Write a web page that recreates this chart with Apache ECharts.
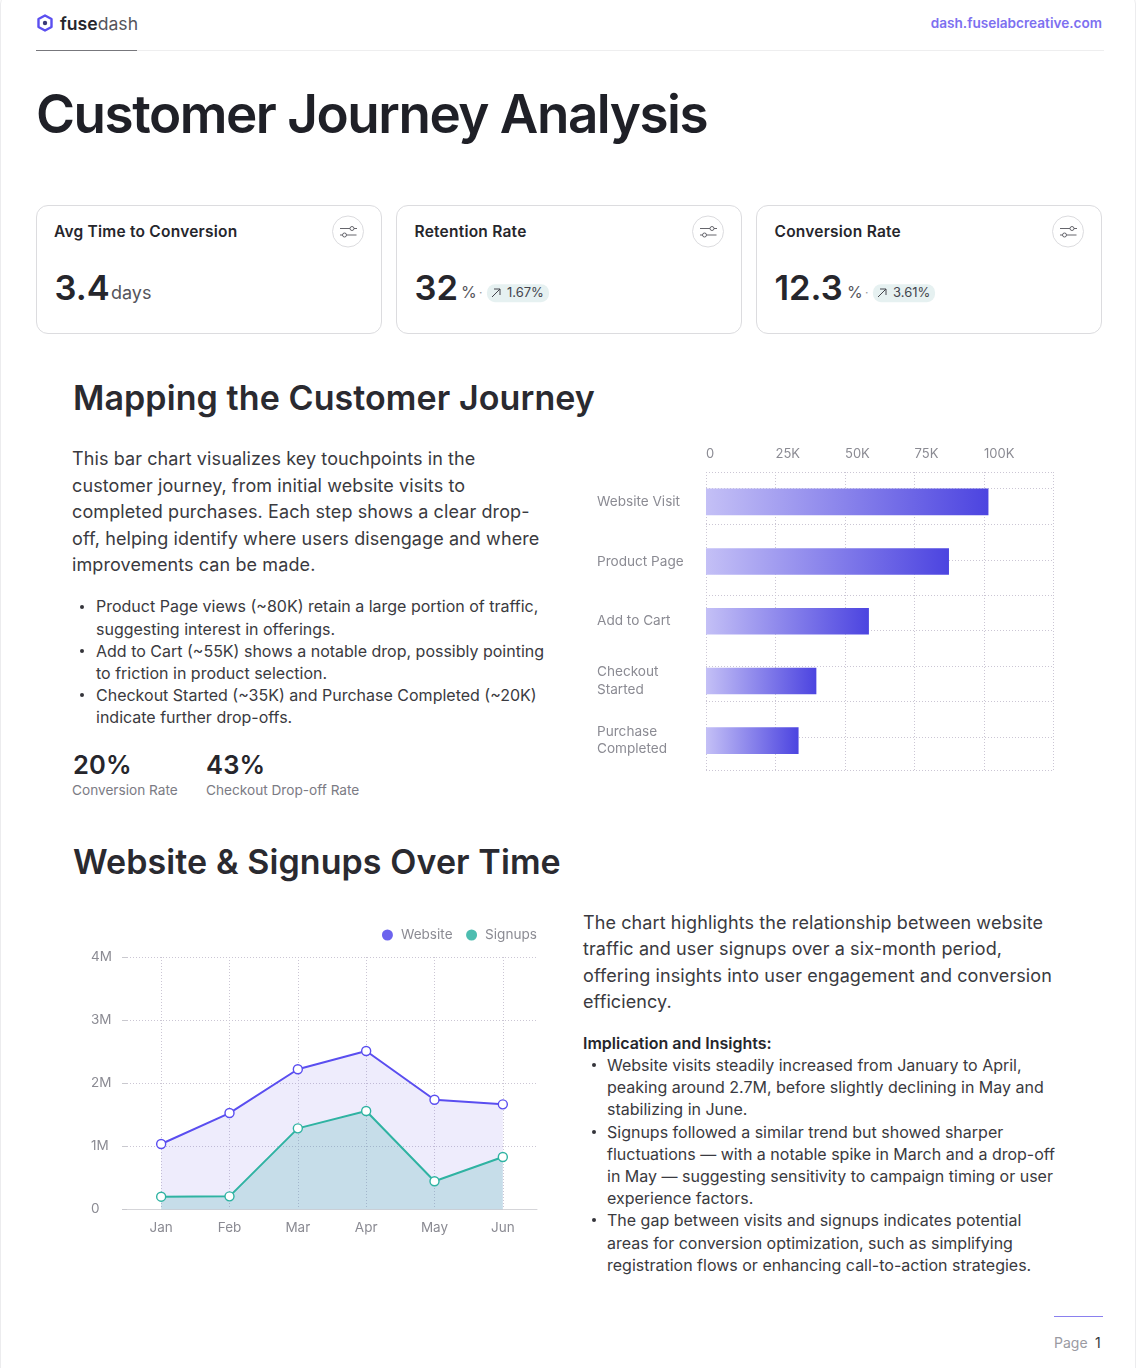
<!DOCTYPE html>
<html>
<head>
<meta charset="utf-8" />
<title>Customer Journey Analysis</title>
<style>
html, body { margin: 0; padding: 0; background: #fff; }
body { width: 1136px; height: 1368px; position: relative; overflow: hidden; font-family: Inter, sans-serif; color: #26262c; }
.t { position: absolute; white-space: nowrap; transform: translateY(-50%); line-height: 1.2; }
.frame { position: absolute; left: 0; top: -10px; width: 1134px; height: 1390px; border: 1px solid #ececee; border-radius: 14px; }
.card { position: absolute; top: 205px; width: 344px; height: 127px; border: 1px solid #dcdcdf; border-radius: 12px; }
.cardTitle { font-size: 15.5px; font-weight: 600; letter-spacing: 0.23px; }
.val { font-size: 34.5px; font-weight: 600; }
.unit { font-size: 18px; color: #55555c; }
.pct { font-size: 16px; color: #55555c; }
.pill { background: #e6f1f1; border-radius: 8px; padding: 1px 5px 1px 20px; font-size: 13px; color: #44444c; }
.ico { position: absolute; }
.h2 { font-size: 34px; font-weight: 600; letter-spacing: 0.09px; color: #2a2a30; }
.p { font-size: 18px; letter-spacing: 0.1px; color: #3a3a40; }
.b { font-size: 16px; color: #3a3a40; }
.dot { position: absolute; width: 4px; height: 4px; border-radius: 50%; background: #34343a; }
.stat { font-size: 25.5px; font-weight: 600; letter-spacing: 0.2px; }
.cap { font-size: 13.65px; color: #7b7b84; }
#funnel { position: absolute; left: 580px; top: 430px; width: 500px; height: 360px; }
#trend { position: absolute; left: 60px; top: 915px; width: 500px; height: 330px; }
</style>
</head>
<body>
<div class="frame"></div>

<svg class="ico" style="left:36px;top:14px" width="18" height="18" viewBox="0 0 18 18">
  <path d="M9 1.5 L15.5 5 V13 L9 16.5 L2.5 13 V5 Z" fill="none" stroke="#5b4ff0" stroke-width="2.4" stroke-linejoin="round"/>
  <circle cx="9" cy="9" r="2.2" fill="#3a3a78"/>
</svg>
<div class="t" style="left:60px;top:24px;font-size:17.6px;font-weight:600">fuse<span style="font-weight:400;color:#55555c">dash</span></div>
<div class="t" style="right:34px;top:23px;font-size:13.6px;font-weight:600;color:#7d70f0">dash.fuselabcreative.com</div>
<div style="position:absolute;left:36px;top:50px;width:1068px;height:1px;background:#eeeeef"></div>
<div style="position:absolute;left:36px;top:50px;width:101px;height:1px;background:#77777c"></div>

<div class="t" style="left:36px;top:115px;font-size:53px;font-weight:600;letter-spacing:-1.47px;color:#1f2027">Customer Journey Analysis</div>

<div class="card" style="left:36px"></div>
<div class="card" style="left:396px"></div>
<div class="card" style="left:756px"></div>

<div class="t cardTitle" style="left:54px;top:232px">Avg Time to Conversion</div>
<div class="t cardTitle" style="left:414.5px;top:232px">Retention Rate</div>
<div class="t cardTitle" style="left:774.5px;top:232px">Conversion Rate</div>

<div class="t val" style="left:54.5px;top:288px">3.4</div>
<div class="t unit" style="left:111px;top:293px">days</div>

<div class="t val" style="left:414.5px;top:288px">32</div>
<div class="t pct" style="left:461px;top:293px">%</div>
<div class="t" style="left:479px;top:293px;font-size:12px;color:#999">·</div>
<div class="t pill" style="left:487px;top:293px">1.67%</div>

<div class="t val" style="left:774.5px;top:288px">12.3</div>
<div class="t pct" style="left:847px;top:293px">%</div>
<div class="t" style="left:865px;top:293px;font-size:12px;color:#999">·</div>
<div class="t pill" style="left:873px;top:293px">3.61%</div>

<div id="icons"></div>

<div class="t h2" style="left:73px;top:398px">Mapping the Customer Journey</div>

<div class="t p" style="left:72px;top:459px">This bar chart visualizes key touchpoints in the</div>
<div class="t p" style="left:72px;top:486px">customer journey, from initial website visits to</div>
<div class="t p" style="left:72px;top:512px">completed purchases. Each step shows a clear drop-</div>
<div class="t p" style="left:72px;top:539px">off, helping identify where users disengage and where</div>
<div class="t p" style="left:72px;top:565px">improvements can be made.</div>

<div class="dot" style="left:80px;top:605px"></div>
<div class="t b" style="left:96px;top:607px">Product Page views (~80K) retain a large portion of traffic,</div>
<div class="t b" style="left:96px;top:630px">suggesting interest in offerings.</div>
<div class="dot" style="left:80px;top:649px"></div>
<div class="t b" style="left:96px;top:652px">Add to Cart (~55K) shows a notable drop, possibly pointing</div>
<div class="t b" style="left:96px;top:674px">to friction in product selection.</div>
<div class="dot" style="left:80px;top:693px"></div>
<div class="t b" style="left:96px;top:696px">Checkout Started (~35K) and Purchase Completed (~20K)</div>
<div class="t b" style="left:96px;top:718px">indicate further drop-offs.</div>

<div class="t stat" style="left:73px;top:765px">20%</div>
<div class="t cap" style="left:72px;top:790px">Conversion Rate</div>
<div class="t stat" style="left:206px;top:765px">43%</div>
<div class="t cap" style="left:206px;top:790px">Checkout Drop-off Rate</div>

<div id="funnel"></div>

<div class="t h2" style="left:73px;top:862px">Website &amp; Signups Over Time</div>

<div id="trend"></div>

<div class="t p" style="left:583px;top:923px">The chart highlights the relationship between website</div>
<div class="t p" style="left:583px;top:949px">traffic and user signups over a six-month period,</div>
<div class="t p" style="left:583px;top:976px">offering insights into user engagement and conversion</div>
<div class="t p" style="left:583px;top:1002px">efficiency.</div>

<div class="t b" style="left:583px;top:1044px;font-weight:600;color:#26262c">Implication and Insights:</div>
<div class="dot" style="left:592px;top:1063px"></div>
<div class="t b" style="left:607px;top:1066px">Website visits steadily increased from January to April,</div>
<div class="t b" style="left:607px;top:1088px">peaking around 2.7M, before slightly declining in May and</div>
<div class="t b" style="left:607px;top:1110px">stabilizing in June.</div>
<div class="dot" style="left:592px;top:1130px"></div>
<div class="t b" style="left:607px;top:1133px">Signups followed a similar trend but showed sharper</div>
<div class="t b" style="left:607px;top:1155px">fluctuations — with a notable spike in March and a drop-off</div>
<div class="t b" style="left:607px;top:1177px">in May — suggesting sensitivity to campaign timing or user</div>
<div class="t b" style="left:607px;top:1199px">experience factors.</div>
<div class="dot" style="left:592px;top:1218px"></div>
<div class="t b" style="left:607px;top:1221px">The gap between visits and signups indicates potential</div>
<div class="t b" style="left:607px;top:1244px">areas for conversion optimization, such as simplifying</div>
<div class="t b" style="left:607px;top:1266px">registration flows or enhancing call-to-action strategies.</div>

<div style="position:absolute;left:1054px;top:1316px;width:49px;height:1px;background:#8a80ee"></div>
<div class="t" style="left:1054px;top:1343px;font-size:14px;color:#9a9aa2">Page</div>
<div class="t" style="left:1095px;top:1343px;font-size:14px;color:#34343a">1</div>

<script src="https://cdn.jsdelivr.net/npm/echarts@6/dist/echarts.min.js"></script>
<script>
// funnel chart data
var stepNames = ['Website Visit', 'Product Page', 'Add to Cart', 'Checkout\nStarted', 'Purchase\nCompleted'];
var stepValues = [101600, 87400, 58600, 39700, 33300];
var stepGridLines = [0, 33, 69, 104, 140, 175, 210, 246, 282, 298];

// line chart data
var months = ['Jan', 'Feb', 'Mar', 'Apr', 'May', 'Jun'];
var websiteValues = [1035000, 1526000, 2220000, 2510000, 1737000, 1664000];
var signupValues = [200000, 205000, 1283000, 1558000, 444000, 829000];

var gray = '#8b8b93';
var dotted = { color: '#cbc6d4', type: [1, 2], width: 1 };

// little slider icons in the cards
var iconHtml = '';
[348, 708, 1068].forEach(function (cx) {
  iconHtml += '<svg class="ico" style="left:' + (cx - 17) + 'px;top:214px" width="34" height="36" viewBox="0 0 34 36">' +
    '<circle cx="17" cy="17.5" r="15.5" fill="#fff" stroke="#dcdcdf"/>' +
    '<path d="M9 14.5h10M23 14.5h3M9 21h2.5M15.5 21h10" stroke="#66666c" fill="none"/>' +
    '<circle cx="21" cy="14.5" r="2" fill="none" stroke="#66666c"/>' +
    '<circle cx="13.5" cy="21" r="2" fill="none" stroke="#66666c"/></svg>';
});
[[493, 293], [879, 293]].forEach(function (p) {
  iconHtml += '<svg class="ico" style="left:' + (p[0] - 3) + 'px;top:' + (p[1] - 6) + 'px" width="12" height="12" viewBox="0 0 12 12">' +
    '<path d="M2 10L10 2M4 2h6v6" fill="none" stroke="#44444c"/></svg>';
});
document.getElementById('icons').innerHTML = iconHtml;

var funnelChart = echarts.init(document.getElementById('funnel'));
funnelChart.setOption({
  animation: false,
  textStyle: { fontFamily: 'Inter, sans-serif' },
  grid: { left: 126, top: 42, width: 347.5, height: 298.5 },
  xAxis: {
    type: 'value',
    position: 'top',
    min: 0,
    max: 125000,
    interval: 25000,
    axisLine: { show: false },
    axisTick: { show: false },
    axisLabel: {
      color: gray,
      fontSize: 13,
      align: 'left',
      margin: 11,
      showMaxLabel: false,
      formatter: function (v) { return v === 0 ? '0' : (v / 1000) + 'K'; }
    },
    splitLine: { show: true, lineStyle: dotted }
  },
  yAxis: [
    {
      type: 'category',
      inverse: true,
      data: stepNames,
      axisLine: { show: false },
      axisTick: { show: false },
      axisLabel: { color: gray, fontSize: 13.6, align: 'left', margin: 109, lineHeight: 17.5 },
      splitLine: { show: false }
    },
    {
      // only here to carry the horizontal dotted lines
      type: 'value',
      min: 0,
      max: 298,
      position: 'right',
      axisLine: { show: false },
      axisLabel: { show: false },
      axisTick: { show: false, customValues: stepGridLines },
      splitLine: { show: true, lineStyle: dotted }
    }
  ],
  series: [{
    type: 'bar',
    yAxisIndex: 0,
    barWidth: 26.6,
    data: stepValues,
    itemStyle: {
      color: new echarts.graphic.LinearGradient(0, 0, 1, 0, [
        { offset: 0, color: '#c4c0f6' },
        { offset: 1, color: '#4c44e0' }
      ])
    }
  }]
});

var trendChart = echarts.init(document.getElementById('trend'));
function trendSeries(name, values, color, area) {
  return {
    name: name,
    type: 'line',
    data: values,
    symbol: 'circle',
    symbolSize: 9,
    showAllSymbols: true,
    lineStyle: { color: color, width: 2 },
    itemStyle: { color: '#fff', borderColor: color, borderWidth: 1.4 },
    areaStyle: { color: area, opacity: 1 }
  };
}
trendChart.setOption({
  animation: false,
  textStyle: { fontFamily: 'Inter, sans-serif' },
  legend: {
    right: 23,
    top: 13,
    padding: 0,
    icon: 'circle',
    itemWidth: 11,
    itemHeight: 11,
    itemGap: 13.5,
    itemStyle: { borderWidth: 0 },
    textStyle: { color: gray, fontSize: 13.6, padding: [0, 0, 0, 3] },
    data: [
      { name: 'Website', itemStyle: { color: '#6c63ee', borderWidth: 0 } },
      { name: 'Signups', itemStyle: { color: '#4dbdb0', borderWidth: 0 } }
    ]
  },
  grid: { left: 67, top: 42, width: 410, height: 252.3 },
  xAxis: {
    type: 'category',
    data: months,
    axisLine: { lineStyle: { color: '#d5d5d9' } },
    axisTick: { show: false },
    axisLabel: { color: gray, fontSize: 13.5, margin: 12 },
    splitLine: { show: true, alignWithLabel: true, lineStyle: dotted }
  },
  yAxis: {
    type: 'value',
    min: 0,
    max: 4000000,
    interval: 1000000,
    axisLine: { show: false },
    axisTick: { show: true, length: 5, lineStyle: { color: '#c9c9ce' } },
    axisLabel: {
      color: gray,
      fontSize: 13.5,
      align: 'left',
      margin: 36,
      padding: [2, 0, 0, 0],
      formatter: function (v) { return v === 0 ? '0' : (v / 1000000) + 'M'; }
    },
    splitLine: { show: true, lineStyle: dotted }
  },
  series: [
    trendSeries('Website', websiteValues, '#5a4ef0', 'rgba(112,96,232,0.12)'),
    trendSeries('Signups', signupValues, '#2fb3a2', 'rgba(60,170,170,0.22)')
  ]
});
</script>
</body>
</html>
